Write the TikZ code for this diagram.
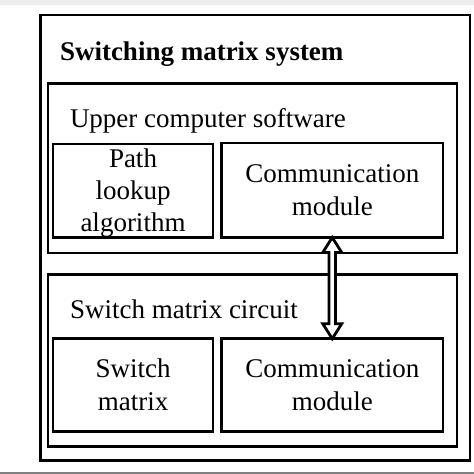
\documentclass[tikz,border=0pt]{standalone}
\usepackage{fontspec}
\setmainfont{Liberation Serif}
\usetikzlibrary{calc}
\definecolor{topstrip}{HTML}{EDEDED}
\definecolor{botstrip}{HTML}{808080}
\begin{document}
\begin{tikzpicture}[x=1pt,y=-1pt,
  box/.style={draw=black, line width=2.9pt, inner sep=0pt, outer sep=0pt, fill=white},
  inbox/.style={box, align=center, font=\fontsize{27}{33}\selectfont},
  lbl/.style={anchor=base west, inner sep=0pt, outer sep=0pt, font=\fontsize{27}{33}\selectfont},
  conn/.style={draw=black, line width=2.8pt, fill=white, line join=miter}]
\useasboundingbox (0,0) rectangle (474,474);
\fill[white] (0,0) rectangle (474,474);
\fill[topstrip] (0,0) rectangle (474,5);
\fill[botstrip] (0,471.5) rectangle (474,474);
% containers
\node[box, minimum width=429.5pt, minimum height=445.5pt] (sys) at (255.25,237.75) {};
\node[box, minimum width=409pt, minimum height=169.5pt] (up) at (252.5,168.25) {};
\node[box, minimum width=409pt, minimum height=172pt] (lo) at (252.5,360.5) {};
% labels
\node[lbl, font=\fontsize{27}{33}\selectfont\bfseries] (title) at (60,60) {Switching matrix system};
\node[lbl] (uplbl) at (70,127) {Upper computer software};
\node[lbl] (lolbl) at (70,318) {Switch matrix circuit};
% inner boxes
\node[inbox, minimum width=160pt, minimum height=93.5pt] (path) at (133,190.75) {\rule{0pt}{22.5pt}Path\\[-1pt]lookup\\[-1pt]algorithm};
\node[inbox, minimum width=221.5pt, minimum height=94.5pt] (cu) at (332.25,190.25) {Communication\\module};
\node[inbox, minimum width=160pt, minimum height=92.6pt] (sw) at (133,385) {Switch\\matrix};
\node[inbox, minimum width=221.5pt, minimum height=92.6pt] (cl) at (332.25,385) {Communication\\module};
% double arrow
\draw[conn] (cu.south) -- ($(cu.south)+(9.5,15)$) -- ($(cu.south)+(3.2,15)$)
  -- ($(cl.north)+(3.2,-15)$) -- ($(cl.north)+(9.5,-15)$) -- (cl.north)
  -- ($(cl.north)+(-9.5,-15)$) -- ($(cl.north)+(-3.2,-15)$)
  -- ($(cu.south)+(-3.2,15)$) -- ($(cu.south)+(-9.5,15)$) -- cycle;
\end{tikzpicture}
\end{document}
